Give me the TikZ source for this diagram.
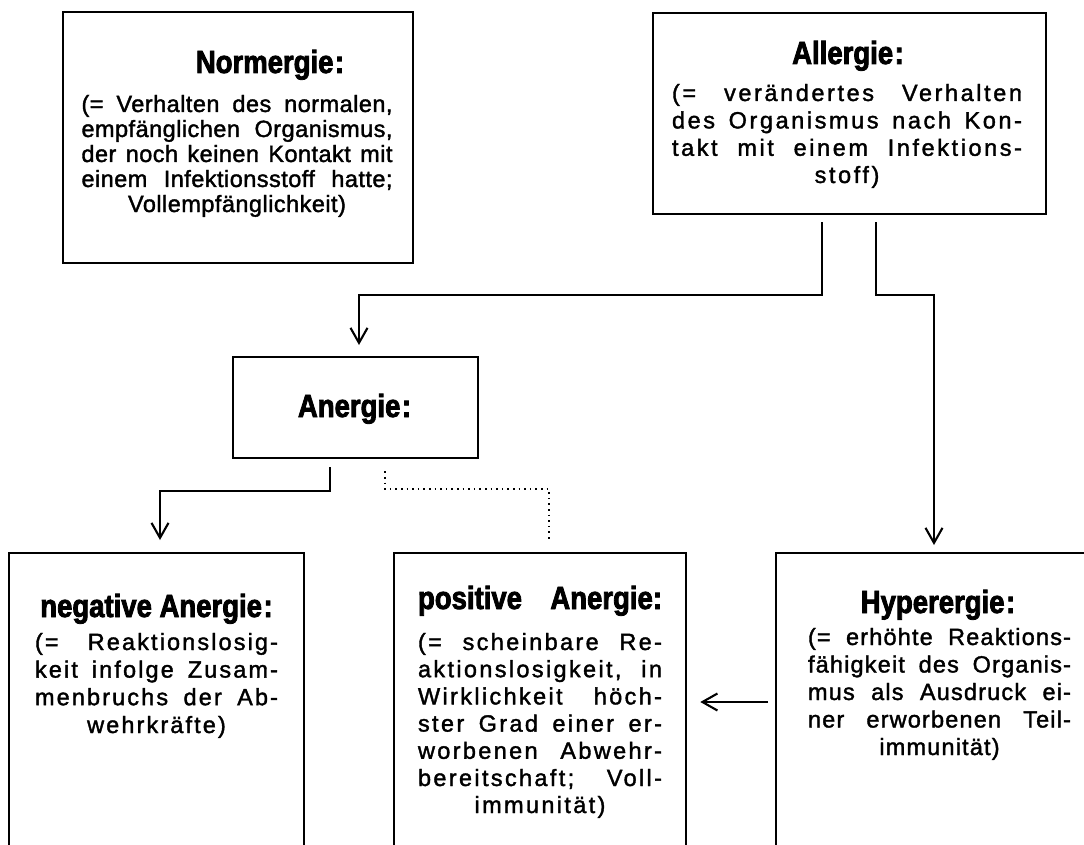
\documentclass[tikz,border=0pt]{standalone}
\usepackage{fontspec}
\setmainfont{Liberation Sans}
\newfontfamily\hfont[FakeStretch=0.86, BoldFeatures={FakeBold=2.5}]{Liberation Sans}
\newfontfamily\bodyN[LetterSpace=2, FakeBold=1.6]{Liberation Sans}
\newfontfamily\bodyA[LetterSpace=11, FakeBold=1.6]{Liberation Sans}
\newfontfamily\bodyB[LetterSpace=9, FakeBold=1.6]{Liberation Sans}
\newfontfamily\bodyP[LetterSpace=10, FakeBold=1.6]{Liberation Sans}
\newfontfamily\bodyH[LetterSpace=5, FakeBold=1.6]{Liberation Sans}
\usetikzlibrary{arrows.meta,calc}
\newcommand{\jl}[2]{\makebox[#1pt][s]{#2}}
\newcommand{\bsize}{\fontsize{23.5}{27}\selectfont}
\begin{document}
\begin{tikzpicture}[x=1pt,y=-1pt,
  box/.style={draw, line width=2.3pt, anchor=north west, inner sep=0pt},
  head/.style={anchor=base, inner sep=0pt, font=\hfont\bfseries\fontsize{32}{34}\selectfont},
  line/.style={anchor=base, inner sep=0pt},
  conn/.style={line width=2.3pt},
  arr/.style={conn, -{Straight Barb[length=15pt,width=17pt,line width=2.1pt]}},
  dots/.style={line width=1.6pt, dash pattern=on 1.6pt off 4pt}]
\useasboundingbox (0,0) rectangle (1084,845);
\clip (0,0) rectangle (1084,845);

% boxes
\node[box, minimum width=350pt, minimum height=251pt] (normergie) at (62,11) {};
\node[box, minimum width=393pt, minimum height=201pt] (allergie) at (652,12) {};
\node[box, minimum width=245pt, minimum height=101pt] (anergie) at (232,356) {};
\node[box, minimum width=295pt, minimum height=320pt] (negativ) at (8,552) {};
\node[box, minimum width=292pt, minimum height=320pt] (positiv) at (393,552) {};
\node[box, minimum width=340pt, minimum height=320pt] (hyper) at (775,552) {};

% headings
\node[head] (hN) at (270,73) {Normergie\kern1.5pt:};
\node[head] (hA) at (848,64) {Allergie\kern1.5pt:};
\node[head] (hAn) at (354.5,417) {Anergie\kern1.5pt:};
\node[head] (hNeg) at (156.5,617) {negative Anergie\kern1.5pt:};
\node[head] (hPos) at (540,609) {\jl{244}{positive Anergie:}};
\node[head] (hHyp) at (938,613) {Hyperergie\kern1.5pt:};

% Normergie text
\foreach \txt [count=\i] in {{(= Verhalten des normalen,},{empfänglichen Organismus,},{der noch keinen Kontakt mit},{einem Infektionsstoff hatte;}}
  \node[line] (nrm\i) at (237,{112+25*(\i-1)}) {\bodyN\bsize\jl{311}{\txt}};
\node[line] (nrm5) at (237,212) {\bodyN\bsize Vollempfänglichkeit)};

% Allergie text
\foreach \txt [count=\i] in {{(= verändertes Verhalten},{des Organismus nach Kon-},{takt mit einem Infektions-}}
  \node[line] (all\i) at (847,{101+27.4*(\i-1)}) {\bodyA\bsize\jl{350}{\txt}};
\node[line] (all4) at (847,183) {\bodyA\bsize stoff)};

% negative Anergie text
\foreach \txt [count=\i] in {{(= Reaktionslosig-},{keit infolge Zusam-},{menbruchs der Ab-}}
  \node[line] (neg\i) at (156.5,{650+27.6*(\i-1)}) {\bodyB\bsize\jl{243}{\txt}};
\node[line] (neg4) at (156.5,733) {\bodyB\bsize wehrkräfte)};

% positive Anergie text
\foreach \txt [count=\i] in {{(= scheinbare Re-},{aktionslosigkeit, in},{Wirklichkeit höch-},{ster Grad einer er-},{worbenen Abwehr-},{bereitschaft; Voll-}}
  \node[line] (pos\i) at (540,{650+27.2*(\i-1)}) {\bodyP\bsize\jl{244}{\txt}};
\node[line] (pos7) at (540,813) {\bodyP\bsize immunität)};

% Hyperergie text
\foreach \txt [count=\i] in {{(= erhöhte Reaktions-},{fähigkeit des Organis-},{mus als Ausdruck ei-},{ner erworbenen Teil-}}
  \node[line] (hyp\i) at (939.5,{645+27.5*(\i-1)}) {\bodyH\bsize\jl{263}{\txt}};
\node[line] (hyp5) at (939.5,755) {\bodyH\bsize immunität)};

% connectors
\coordinate (jA) at (359,295);
\coordinate (jH) at (934,295);
\coordinate (jN) at (160,491);
\coordinate (jP) at (549,489);
\coordinate (ly) at (0,702);

\draw[arr] ($(allergie.south)+(-27.5,7)$) |- (jA) -- ($(jA |- anergie.north)+(0,-11)$);
\draw[arr] ($(allergie.south)+(26.5,7)$) |- (jH) -- ($(jH |- hyper.north)+(0,-7)$);
\draw[arr] ($(anergie.south)+(-25.5,8)$) |- (jN) -- ($(jN |- negativ.north)+(0,-12)$);
\draw[dots] ($(anergie.south)+(29.5,12)$) |- (jP) -- ($(jP |- positiv.north)+(0,-10)$);
\draw[arr] ($(hyper.west |- ly)+(-7,0)$) -- ($(positiv.east |- ly)+(13,0)$);
\end{tikzpicture}
\end{document}
